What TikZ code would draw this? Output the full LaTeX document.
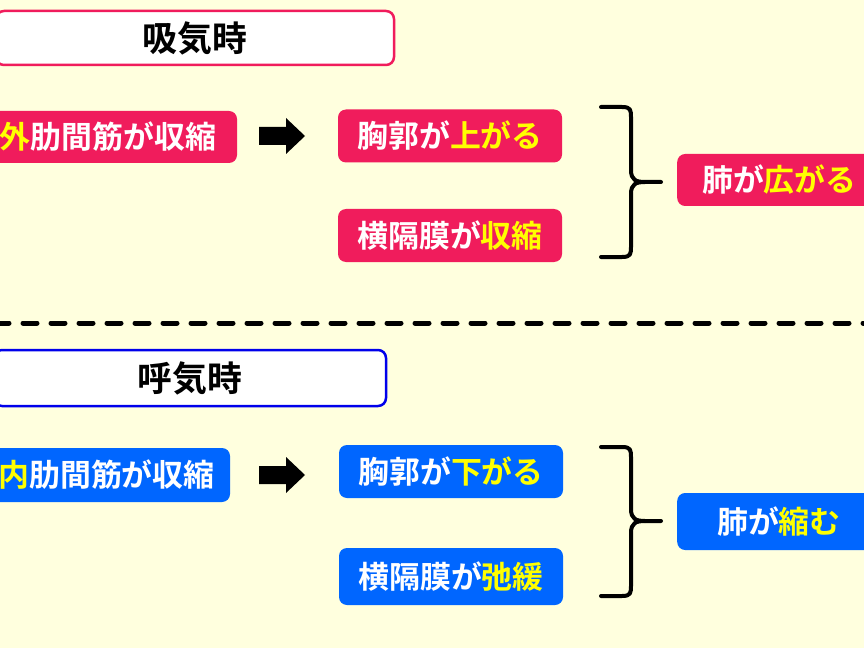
\documentclass[tikz,border=0pt]{standalone}
\usepackage{fontspec}
\setmainfont{Noto Sans CJK JP}[BoldFont={* Bold}]
\definecolor{bgyel}{RGB}{255,255,222}
\definecolor{pinkc}{RGB}{240,28,92}
\definecolor{bluec}{RGB}{0,102,255}
\definecolor{titleblue}{RGB}{0,0,235}
\definecolor{hl}{RGB}{255,255,0}
\tikzset{
  titlebox/.style={draw, line width=2.5bp, fill=white, rounded corners=8bp, font=\fontsize{35}{35}\selectfont\bfseries, text=black, inner sep=0pt},
  pinkbox/.style={fill=pinkc, rounded corners=8bp, text=white, font=\fontsize{31}{31}\selectfont\bfseries, inner sep=0pt},
  bluebox/.style={fill=bluec, rounded corners=8bp, text=white, font=\fontsize{31}{31}\selectfont\bfseries, inner sep=0pt},
  blockarrow/.style={fill=black},
  bracel/.style={line width=4bp, line cap=round, line join=round},
}
\begin{document}
\begin{tikzpicture}[x=1bp, y=-1bp]
\useasboundingbox (0,0) rectangle (864,648);
\clip (0,0) rectangle (864,648);
\fill[bgyel] (0,0) rectangle (864,648);

% --- inhalation ---
\node[titlebox, draw=pinkc, minimum width=398bp, minimum height=54bp] (t1) at (195,38) {吸気時};
\node[pinkbox, minimum width=258bp, minimum height=52bp] (a1) at (108,137) {\textcolor{hl}{外}肋間筋が収縮};
\node[pinkbox, minimum width=224bp, minimum height=53bp] (b1) at (450,136) {胸郭が\textcolor{hl}{上がる}};
\node[pinkbox, minimum width=224bp, minimum height=53bp] (c1) at (450,235.5) {横隔膜が\textcolor{hl}{収縮}};
\node[pinkbox, inner xsep=25bp, minimum height=52bp, anchor=west] (d1) at (677,180) {肺が\textcolor{hl}{広がる}};
\coordinate (ar1) at (259,136);
\fill[blockarrow] (ar1) ++(0,-9) -- ++(27,0) -- ++(0,-9) -- ++(19,18) -- ++(-19,18) -- ++(0,-9) -- ++(-27,0) -- cycle;
\coordinate (br1t) at (601,107);
\coordinate (br1b) at (601,257);
\coordinate (br1m) at (661,182);
\draw[bracel] (br1t) -- (622,107) .. controls (631,107) and (631,110) .. (631,118) -- (631,170) .. controls (631,180) and (636,182) .. (645,182) -- (br1m);
\draw[bracel] (645,182) .. controls (636,182) and (631,184) .. (631,194) -- (631,246) .. controls (631,254) and (631,257) .. (622,257) -- (br1b);

% --- dashed separator ---
\coordinate (ds) at (-5,323);
\coordinate (de) at (870,323);
\draw[line width=5bp, line cap=round, dash pattern=on 14bp off 14bp] (ds) -- (de);

% --- exhalation ---
\node[titlebox, draw=titleblue, minimum width=392bp, minimum height=56bp] (t2) at (190,378) {呼気時};
\node[bluebox, minimum width=247bp, minimum height=54bp] (a2) at (106.5,475) {\textcolor{hl}{内}肋間筋が収縮};
\node[bluebox, minimum width=224bp, minimum height=53bp] (b2) at (451,471.5) {胸郭が\textcolor{hl}{下がる}};
\node[bluebox, minimum width=224bp, minimum height=57bp] (c2) at (451,576.5) {横隔膜が\textcolor{hl}{弛緩}};
\node[bluebox, inner xsep=40bp, minimum height=57bp, anchor=west] (d2) at (677,521.5) {肺が\textcolor{hl}{縮む}};
\coordinate (ar2) at (259,475);
\fill[blockarrow] (ar2) ++(0,-9) -- ++(27,0) -- ++(0,-9) -- ++(19,18) -- ++(-19,18) -- ++(0,-9) -- ++(-27,0) -- cycle;
\draw[bracel] (601,447) -- (622,447) .. controls (631,447) and (631,450) .. (631,458) -- (631,509) .. controls (631,519) and (636,521) .. (645,521) -- (661,521);
\draw[bracel] (645,521) .. controls (636,521) and (631,523) .. (631,533) -- (631,585) .. controls (631,593) and (631,596) .. (622,596) -- (601,596);
\end{tikzpicture}
\end{document}
